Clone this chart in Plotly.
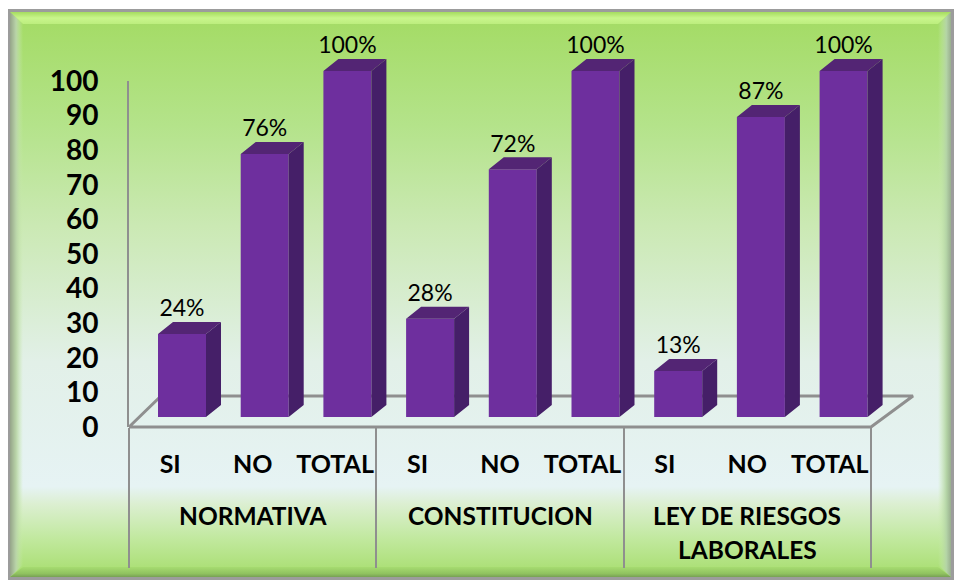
import plotly.graph_objects as go

groups = [["NORMATIVA"], ["CONSTITUCION"], ["LEY DE RIESGOS", "LABORALES"]]
categories = ["SI", "NO", "TOTAL", "SI", "NO", "TOTAL", "SI", "NO", "TOTAL"]
# bar heights, the printed labels are rounded
values = [24, 76, 100, 28.4, 71.6, 100, 13.3, 86.7, 100]
labels = ["24%", "76%", "100%", "28%", "72%", "100%", "13%", "87%", "100%"]
y_ticks = list(range(0, 101, 10))

W, H = 959, 581
FRONT = "#6e2f9e"
SIDE = "#451f68"
TOP = "#532574"
AXIS = "#8f8f8f"
FONT = "Lato"

# pixel based helpers for the layout
def dom_x(a, b):
    return [a / W, b / W]

def dom_y(top, bottom):
    return [1 - bottom / H, 1 - top / H]

# bar depth, in axis units
BAR_W = 48 / 82.7
DX = 15 / 82.7
DY = 12 / 3.46

fig = go.Figure()

def bg_poly(xs, ys, fill=None, grad=None):
    fig.add_trace(go.Scatter(
        x=xs, y=ys, mode="lines", fill="toself", line=dict(width=0),
        fillcolor=fill, fillgradient=grad, xaxis="x", yaxis="y",
        hoverinfo="skip", showlegend=False,
    ))

# frame and background
bg_poly([8, 954, 954, 8], [9, 9, 580, 580], fill="#9c9c9c")
bg_poly([10, 951, 951, 10], [12, 12, 577, 577], grad=dict(
    type="vertical", start=12, stop=577,
    colorscale=[[0, "#a3db63"], [0.2, "#b4e38a"], [0.38, "#cbe9b4"], [0.62, "#e2f0e8"],
                [0.84, "#e6f3f4"], [0.87, "#dcefd2"], [0.93, "#c2e9a0"], [1, "#a6dd6c"]],
))
# bevels
bg_poly([10, 951, 938, 23], [12, 12, 24, 24], grad=dict(
    type="vertical", start=12, stop=24,
    colorscale=[[0, "#a5dc5f"], [0.5, "#c9f58c"], [1, "#bcee7e"]],
))
bg_poly([10, 23, 23, 10], [12, 24, 565, 577], grad=dict(
    type="horizontal", start=9, stop=23,
    colorscale=[[0, "#8f9c84"], [0.5, "#b9d4a8"], [1, "rgba(200,235,170,0)"]],
))
bg_poly([951, 938, 938, 951], [12, 24, 565, 577], grad=dict(
    type="horizontal", start=938, stop=952,
    colorscale=[[0, "rgba(200,235,170,0)"], [0.6, "#b4d4a6"], [1, "#93a68a"]],
))
bg_poly([10, 951, 938, 23], [577, 577, 567, 567], grad=dict(
    type="vertical", start=567, stop=578,
    colorscale=[[0, "#a6db70"], [0.6, "#90c260"], [1, "#6f9650"]],
))

# floor of the 3d chart
fig.add_trace(go.Scatter(
    x=[129, 161, 913, 871, 129], y=[427, 396, 396, 427, 427], mode="lines",
    line=dict(color=AXIS, width=3), xaxis="x", yaxis="y",
    hoverinfo="skip", showlegend=False,
))

# axes trace so the tick axis gets drawn
positions = list(range(len(categories)))
fig.add_trace(go.Scatter(
    x=positions, y=values, mode="markers", marker=dict(opacity=0),
    xaxis="x2", yaxis="y2", hoverinfo="skip", showlegend=False,
))

# front of the bars
fig.add_trace(go.Bar(
    x=positions, y=values, width=BAR_W, xaxis="x3", yaxis="y3",
    marker=dict(color=FRONT, line=dict(width=0)),
    hoverinfo="skip", showlegend=False,
))

# side and top of the bars
side_x, side_y, top_x, top_y = [], [], [], []
for p, v in zip(positions, values):
    r = p + BAR_W / 2
    l = p - BAR_W / 2
    side_x += [r, r + DX, r + DX, r, r, None]
    side_y += [0, DY, v + DY, v, 0, None]
    top_x += [l, r, r + DX, l + DX, l, None]
    top_y += [v, v, v + DY, v + DY, v, None]

for xs, ys, color in [(side_x, side_y, SIDE), (top_x, top_y, TOP)]:
    fig.add_trace(go.Scatter(
        x=xs, y=ys, mode="lines", fill="toself", fillcolor=color,
        line=dict(width=0), xaxis="x3", yaxis="y3",
        hoverinfo="skip", showlegend=False,
    ))

# value labels
fig.add_trace(go.Scatter(
    x=positions, y=[v + DY for v in values], mode="text", text=labels,
    textposition="top center", textfont=dict(family=FONT, size=23, color="#000000"),
    xaxis="x3", yaxis="y3", hoverinfo="skip", showlegend=False,
))

# group labels below the axis
annotations = []
for i, lines in enumerate(groups):
    for j, line in enumerate(lines):
        annotations.append(dict(
            text=line, x=i * 3 + 1, xref="x2",
            y=1 - (515 + j * 34) / H, yref="paper", yanchor="middle",
            showarrow=False, font=dict(family=FONT, size=24.5, color="#000000", weight="bold"),
        ))

fig.update_layout(
    width=W,
    height=H,
    margin=dict(l=0, r=0, t=0, b=0),
    paper_bgcolor="white",
    plot_bgcolor="rgba(0,0,0,0)",
    annotations=annotations,
    xaxis=dict(domain=[0, 1], range=[0, W], visible=False, automargin=False),
    yaxis=dict(domain=[0, 1], range=[H, 0], visible=False, automargin=False),
    xaxis2=dict(
        domain=dom_x(129, 871), range=[-0.5, 8.5], anchor="y2", automargin=False,
        tickmode="array", tickvals=positions, ticktext=categories,
        ticks="", ticklabelstandoff=20, showgrid=False, zeroline=False,
        showline=False,
        tickfont=dict(family=FONT, size=25, color="#000000", weight="bold"),
        minor=dict(tickmode="array", tickvals=[-0.5, 2.5, 5.5, 8.5], ticks="outside",
                   ticklen=140, tickwidth=2, tickcolor=AXIS),
    ),
    yaxis2=dict(
        domain=dom_y(81, 427), range=[0, 100], anchor="x2", automargin=False,
        tickmode="array", tickvals=y_ticks, ticks="", ticklabelstandoff=23,
        showgrid=False, zeroline=False, showline=True, linecolor=AXIS, linewidth=2,
        tickfont=dict(family=FONT, size=28, color="#000000", weight="bold"),
    ),
    xaxis3=dict(domain=dom_x(140.65, 884.95), range=[-0.5, 8.5], anchor="y3", visible=False, automargin=False),
    yaxis3=dict(domain=dom_y(0, 417), range=[0, 417 / 3.46], anchor="x3", visible=False, automargin=False),
)

# the page's default body margin would push the chart 8px in
fig.write_html("out.html", config=dict(displayModeBar=False),
               post_script="document.body.style.margin='0';")
